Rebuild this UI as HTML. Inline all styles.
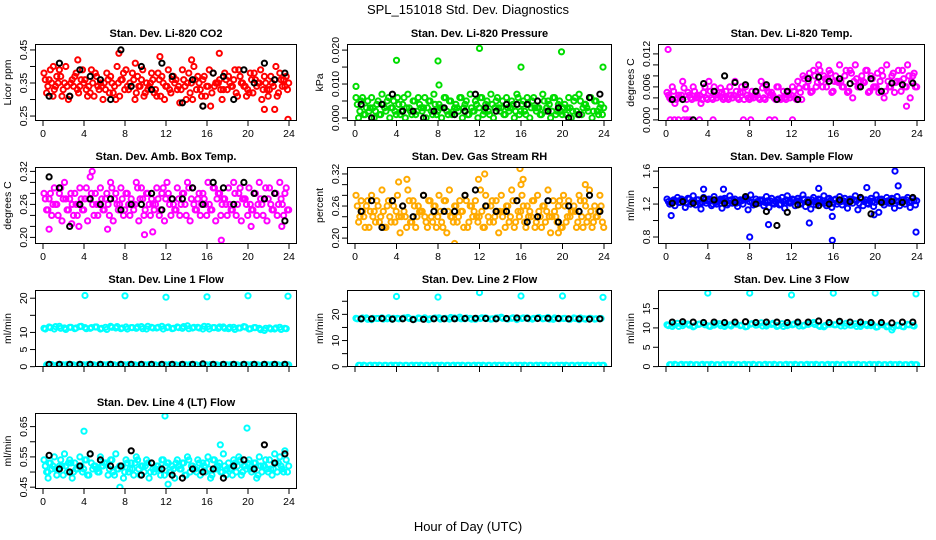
<!DOCTYPE html>
<html><head><meta charset="utf-8"><style>
body{margin:0;background:#fff;}
svg{display:block;font-family:"Liberation Sans",Arial,sans-serif;}
</style></head><body>
<svg id="chart" width="936" height="540" viewBox="0 0 936 540">
<text x="468" y="14" text-anchor="middle" font-size="13">SPL_151018  Std. Dev. Diagnostics</text>
<text x="468" y="531" text-anchor="middle" font-size="13">Hour of Day (UTC)</text>
</svg>
<script>
// ---- data ----
const xTicks = [0,4,8,12,16,20,24];
const blkT = [0.6,1.6,2.6,3.6,4.6,5.6,6.6,7.6,8.6,9.6,10.6,11.6,12.6,13.6,14.6,15.6,16.6,17.6,18.6,19.6,20.6,21.6,22.6,23.6];

const co2A=[0.38,0.36,0.33,0.39,0.35,0.31,0.37,0.34,0.36,0.32,0.38,0.35,0.33,0.37,0.30,0.36,0.39,0.34,0.32,0.36,0.35,0.38,0.31,0.37,0.34,0.36,0.33,0.39,0.35,0.30,0.37,0.36,0.34,0.38,0.35,0.33,0.37,0.36,0.39,0.34,0.32,0.38,0.35,0.37,0.33,0.36,0.38,0.34];
const co2B=[0.32,0.35,0.37,0.31,0.34,0.36,0.33,0.39,0.31,0.35,0.34,0.30,0.36,0.32,0.35,0.38,0.33,0.36,0.34,0.31,0.34,0.32,0.36,0.30,0.33,0.35,0.29,0.34,0.32,0.36,0.33,0.31,0.28,0.35,0.33,0.36,0.34,0.32,0.35,0.31,0.36,0.34,0.30,0.33,0.35,0.31,0.34,0.33];
const co2C=[0.36,0.39,0.34,0.37,0.40,0.35,0.38,0.36,0.33,0.39,0.37,0.34,0.38,0.35,0.40,0.36,0.34,0.38,0.37,0.39,0.33,0.36,0.38,0.35,0.39,0.37,0.34,0.36,0.38,0.40,0.35,0.37,0.39,0.34,0.36,0.38,0.35,0.39,0.37,0.34,0.38,0.36,0.39,0.35,0.37,0.40,0.36,0.37];
const co2D=[0.34,0.31,0.35,0.33,0.30,0.34,0.32,0.35,0.34,0.31,0.33,0.35,0.32,0.34,0.31,0.33,0.35,0.30,0.34,0.32,0.35,0.33,0.31,0.34,0.32,0.36,0.33,0.30,0.35,0.33,0.31,0.34,0.32,0.35,0.30,0.33,0.34,0.31,0.35,0.33,0.32,0.35,0.33,0.31,0.34,0.32,0.36,0.35];
const co2OutT=[1.0,3.4,7.4,9.0,11.4,14.5,15.6,17.2,21.6,22.6,23.9];
const co2OutV=[0.40,0.42,0.44,0.41,0.43,0.42,0.28,0.44,0.27,0.27,0.24];
const co2Blk=[0.31,0.41,0.31,0.39,0.37,0.36,0.30,0.45,0.34,0.40,0.33,0.41,0.37,0.29,0.36,0.28,0.38,0.37,0.30,0.39,0.35,0.41,0.36,0.38];

const prA=[0.006,0.005,0.003,0.006,0.004,0.007,0.005,0.003,0.006,0.004,0.007,0.005,0.006,0.003,0.005,0.007,0.004,0.006,0.005,0.003,0.006,0.004,0.007,0.005,0.006,0.004,0.007,0.005,0.003,0.006,0.005,0.007,0.004,0.006,0.005,0.003,0.007,0.005,0.006,0.004,0.003,0.006,0.005,0.007,0.004,0.006,0.005,0.003];
const prB=[0.000,0.001,0.002,0.000,0.001,0.003,0.000,0.002,0.001,0.000,0.002,0.001,0.003,0.000,0.002,0.001,0.000,0.002,0.001,0.003,0.000,0.001,0.002,0.000,0.001,0.002,0.000,0.003,0.001,0.002,0.000,0.001,0.002,0.000,0.003,0.001,0.002,0.000,0.001,0.002,0.001,0.000,0.002,0.001,0.003,0.000,0.002,0.001];
const prC=[0.004,0.006,0.005,0.003,0.005,0.004,0.006,0.005,0.004,0.006,0.003,0.005,0.004,0.006,0.005,0.004,0.003,0.006,0.005,0.004,0.006,0.005,0.003,0.004,0.006,0.005,0.004,0.006,0.005,0.003,0.004,0.006,0.005,0.004,0.006,0.003,0.005,0.004,0.006,0.005,0.004,0.003,0.006,0.005,0.004,0.006,0.005,0.004];
const prD=[0.002,0.001,0.003,0.002,0.001,0.002,0.003,0.001,0.002,0.003,0.001,0.002,0.002,0.003,0.001,0.002,0.003,0.001,0.002,0.002,0.003,0.001,0.002,0.003,0.002,0.001,0.003,0.002,0.001,0.003,0.002,0.002,0.001,0.003,0.002,0.001,0.003,0.002,0.002,0.001,0.003,0.002,0.001,0.003,0.002,0.002,0.001,0.003];
const prOutT=[0.1,4.0,8.0,8.1,12.0,16.0,19.9,23.9];
const prOutV=[0.0093,0.017,0.0168,0.0097,0.0205,0.015,0.0195,0.015];
const prBlk=[0.004,0.000,0.004,0.007,0.002,0.002,0.000,0.002,0.003,0.001,0.002,0.007,0.003,0.002,0.004,0.004,0.004,0.005,0.002,0.003,0.000,0.001,0.006,0.007];

const tpA=[0.005,0.006,0.004,0.007,0.005,0.006,0.004,0.005,0.007,0.006,0.005,0.004,0.006,0.007,0.005,0.006,0.004,0.005,0.007,0.006,0.005,0.006,0.004,0.005,0.006,0.007,0.008,0.007,0.009,0.010,0.008,0.009,0.007,0.010,0.008,0.009,0.010,0.007,0.009,0.008,0.006,0.009,0.010,0.008,0.007,0.009,0.010,0.008];
const tpB=[0.004,0.003,0.004,0.002,0.004,0.004,0.003,0.004,0.004,0.004,0.005,0.004,0.004,0.004,0.005,0.004,0.004,0.004,0.004,0.005,0.004,0.004,0.004,0.004,0.004,0.005,0.006,0.005,0.006,0.007,0.006,0.005,0.007,0.006,0.005,0.004,0.006,0.007,0.005,0.006,0.005,0.004,0.006,0.005,0.007,0.006,0.004,0.006];
const tpC=[0.0045,0.0052,0.0045,0.0058,0.0045,0.0052,0.0045,0.0060,0.0052,0.0045,0.0058,0.0052,0.0045,0.0052,0.0060,0.0045,0.0052,0.0045,0.0058,0.0052,0.0045,0.0060,0.0052,0.0045,0.0052,0.0058,0.0075,0.0085,0.0080,0.0090,0.0075,0.0085,0.0080,0.0070,0.0090,0.0085,0.0075,0.0080,0.0090,0.0075,0.0085,0.0080,0.0070,0.0085,0.0090,0.0075,0.0080,0.0085];
const tpD=[0.0037,0.0037,0.0045,0.0037,0.0037,0.0045,0.0037,0.0037,0.0037,0.0045,0.0037,0.0037,0.0045,0.0037,0.0037,0.0037,0.0045,0.0037,0.0037,0.0045,0.0037,0.0037,0.0037,0.0045,0.0037,0.0037,0.0060,0.0052,0.0068,0.0060,0.0075,0.0052,0.0068,0.0060,0.0052,0.0070,0.0060,0.0068,0.0052,0.0060,0.0070,0.0052,0.0060,0.0068,0.0052,0.0060,0.0070,0.0060];
const tpOutT=[0.2,0.4,0.8,1.2,1.7,2.0,2.3,3.2,4.5,7.4,8.1,9.9,10.4,12.1,23.0];
const tpOutV=[0.0128,0,0,0,0,0,0,0,0,0,0,0,0,0,0.0025];
const tpBlk=[0.0037,0.0037,0.0000,0.0066,0.0052,0.0080,0.0068,0.0064,0.0052,0.0064,0.0037,0.0052,0.0037,0.0075,0.0078,0.0070,0.0075,0.0066,0.0060,0.0075,0.0052,0.0067,0.0064,0.0067];

const abA=[0.28,0.27,0.29,0.28,0.30,0.27,0.28,0.29,0.27,0.31,0.28,0.29,0.27,0.30,0.28,0.29,0.28,0.27,0.30,0.29,0.28,0.27,0.29,0.28,0.30,0.27,0.29,0.28,0.30,0.29,0.27,0.28,0.30,0.29,0.28,0.27,0.29,0.30,0.28,0.27,0.29,0.28,0.30,0.27,0.29,0.28,0.30,0.28];
const abB=[0.25,0.24,0.26,0.23,0.25,0.26,0.24,0.25,0.23,0.26,0.24,0.25,0.26,0.23,0.25,0.24,0.26,0.25,0.23,0.24,0.26,0.25,0.24,0.23,0.26,0.25,0.24,0.26,0.23,0.25,0.24,0.26,0.25,0.23,0.24,0.26,0.25,0.24,0.23,0.26,0.25,0.24,0.26,0.23,0.25,0.24,0.26,0.25];
const abC=[0.27,0.28,0.26,0.29,0.27,0.28,0.26,0.27,0.29,0.28,0.26,0.27,0.28,0.29,0.26,0.27,0.28,0.26,0.29,0.27,0.28,0.26,0.27,0.29,0.28,0.26,0.27,0.28,0.29,0.26,0.28,0.27,0.26,0.29,0.28,0.27,0.26,0.28,0.29,0.27,0.26,0.28,0.27,0.29,0.26,0.28,0.27,0.29];
const abD=[0.25,0.26,0.24,0.27,0.25,0.24,0.26,0.25,0.27,0.24,0.26,0.25,0.24,0.27,0.26,0.25,0.24,0.26,0.27,0.25,0.24,0.26,0.25,0.27,0.24,0.25,0.26,0.24,0.27,0.25,0.26,0.24,0.25,0.27,0.26,0.24,0.25,0.26,0.27,0.24,0.25,0.26,0.24,0.27,0.25,0.26,0.24,0.25];
const abOutT=[0.6,2.8,3.5,4.8,6.3,9.9,10.7,17.4,19.3,20.3,23.3];
const abOutV=[0.215,0.225,0.22,0.32,0.215,0.205,0.21,0.195,0.335,0.22,0.22];
const abBlk=[0.31,0.29,0.22,0.26,0.27,0.26,0.27,0.25,0.26,0.26,0.28,0.25,0.27,0.27,0.29,0.26,0.30,0.29,0.26,0.30,0.28,0.27,0.28,0.23];

const rhA=[0.28,0.27,0.26,0.28,0.27,0.29,0.26,0.27,0.28,0.26,0.29,0.27,0.26,0.28,0.27,0.26,0.28,0.27,0.29,0.26,0.27,0.28,0.26,0.27,0.29,0.28,0.26,0.27,0.28,0.26,0.29,0.27,0.28,0.26,0.27,0.28,0.26,0.29,0.27,0.26,0.28,0.27,0.26,0.28,0.27,0.29,0.26,0.28];
const rhB=[0.23,0.24,0.22,0.25,0.23,0.22,0.24,0.23,0.21,0.24,0.23,0.22,0.25,0.23,0.24,0.22,0.23,0.21,0.24,0.23,0.25,0.22,0.24,0.23,0.22,0.24,0.23,0.21,0.25,0.23,0.22,0.24,0.23,0.25,0.22,0.24,0.23,0.21,0.24,0.22,0.23,0.25,0.22,0.24,0.23,0.22,0.24,0.23];
const rhC=[0.26,0.25,0.27,0.24,0.26,0.25,0.27,0.26,0.24,0.25,0.27,0.26,0.25,0.24,0.27,0.26,0.25,0.27,0.24,0.26,0.25,0.27,0.26,0.24,0.25,0.26,0.27,0.25,0.24,0.26,0.27,0.25,0.26,0.24,0.27,0.25,0.26,0.24,0.25,0.27,0.26,0.24,0.25,0.27,0.26,0.25,0.24,0.26];
const rhD=[0.24,0.22,0.25,0.23,0.24,0.22,0.23,0.25,0.24,0.22,0.23,0.24,0.25,0.22,0.23,0.24,0.22,0.25,0.23,0.24,0.22,0.23,0.25,0.24,0.22,0.23,0.24,0.25,0.22,0.24,0.23,0.25,0.22,0.24,0.23,0.22,0.25,0.24,0.23,0.22,0.24,0.25,0.23,0.22,0.24,0.23,0.25,0.22];
const rhOutT=[4.2,5.0,9.6,11.9,12.5,15.9,16.0,16.2,19.6,22.2];
const rhOutV=[0.305,0.31,0.19,0.31,0.32,0.33,0.30,0.31,0.21,0.30];
const rhBlk=[0.25,0.27,0.22,0.27,0.26,0.24,0.28,0.25,0.25,0.25,0.28,0.29,0.26,0.25,0.25,0.27,0.23,0.24,0.27,0.23,0.26,0.25,0.28,0.25];

const sfA=[1.26,1.24,1.28,1.25,1.27,1.30,1.25,1.28,1.26,1.29,1.24,1.27,1.30,1.26,1.25,1.28,1.31,1.26,1.24,1.29,1.27,1.25,1.28,1.30,1.26,1.27,1.31,1.25,1.28,1.26,1.30,1.27,1.25,1.29,1.27,1.26,1.30,1.28,1.25,1.27,1.31,1.26,1.28,1.27,1.29,1.25,1.28,1.27];
const sfB=[1.20,1.18,1.22,1.16,1.20,1.19,1.14,1.21,1.18,1.20,1.15,1.19,1.21,1.17,1.20,1.13,1.19,1.21,1.18,1.16,1.20,1.19,1.15,1.21,1.18,1.20,1.17,1.14,1.19,1.21,1.18,1.16,1.20,1.19,1.15,1.21,1.13,1.18,1.20,1.17,1.10,1.19,1.21,1.15,1.18,1.20,1.16,1.19];
const sfC=[1.23,1.25,1.22,1.24,1.26,1.23,1.21,1.25,1.24,1.22,1.26,1.23,1.25,1.21,1.24,1.26,1.22,1.23,1.25,1.24,1.21,1.26,1.23,1.22,1.25,1.24,1.26,1.22,1.23,1.25,1.21,1.24,1.26,1.23,1.22,1.25,1.24,1.26,1.21,1.23,1.25,1.22,1.24,1.26,1.23,1.25,1.22,1.24];
const sfD=[1.22,1.24,1.26,1.21,1.23,1.25,1.22,1.24,1.20,1.23,1.25,1.21,1.24,1.22,1.26,1.23,1.21,1.25,1.22,1.24,1.23,1.20,1.25,1.22,1.24,1.21,1.23,1.25,1.22,1.24,1.26,1.21,1.23,1.24,1.22,1.25,1.21,1.23,1.24,1.22,1.25,1.23,1.21,1.24,1.22,1.25,1.23,1.24];
const sfOutT=[0.5,3.6,5.5,8.0,9.8,13.7,14.6,15.9,15.9,19.2,19.9,21.9,22.2,23.9];
const sfOutV=[1.06,1.38,1.38,0.80,0.95,0.97,1.39,1.05,0.76,1.40,1.07,1.60,1.42,0.86];
const sfBlk=[1.21,1.23,1.21,1.27,1.25,1.21,1.22,1.29,1.20,1.11,0.94,1.10,1.19,1.22,1.18,1.20,1.25,1.23,1.28,1.08,1.22,1.23,1.22,1.28];

const l1A=[11.2,11.6,11.0,11.8,11.3,11.5,11.1,11.7,11.4,11.2,11.6,11.0,11.5,11.8,11.3,11.1,11.6,11.4,11.2,11.7,11.0,11.5,11.3,11.8,11.4,11.1,11.6,11.2,11.9,11.3,11.5,11.0,11.7,11.4,11.2,11.6,11.1,11.5,11.3,11.7,11.0,11.4,11.2,10.6,11.3,11.0,11.5,11.2];
const l1B=[0.5,0.6,0.4,0.5,0.6,0.5,0.4,0.5,0.6,0.5,0.4,0.5,0.6,0.5,0.4,0.5,0.6,0.5,0.4,0.5,0.6,0.5,0.4,0.5,0.6,0.5,0.4,0.5,0.6,0.5,0.4,0.5,0.6,0.5,0.4,0.5,0.6,0.5,0.4,0.5,0.6,0.5,0.4,0.5,0.6,0.5,0.4,0.5];
const l1C=[11.0,11.4,11.7,11.2,10.9,11.5,11.3,11.8,11.1,11.4,11.6,11.2,10.9,11.5,11.7,11.3,11.0,11.4,11.6,11.1,11.8,11.3,11.5,11.0,11.6,11.2,11.4,11.7,11.1,11.5,11.3,11.8,11.0,11.4,11.6,11.2,11.5,10.9,11.3,11.6,11.1,11.4,10.8,11.2,11.0,11.3,10.9,11.1];
const l1D=[0.5,0.4,0.6,0.5,0.4,0.5,0.6,0.5,0.4,0.5,0.6,0.5,0.4,0.5,0.6,0.5,0.4,0.5,0.6,0.5,0.4,0.5,0.6,0.5,0.4,0.5,0.6,0.5,0.4,0.5,0.6,0.5,0.4,0.5,0.6,0.5,0.4,0.5,0.6,0.5,0.4,0.5,0.6,0.5,0.4,0.5,0.6,0.5];
const l1OutT=[4.1,8.0,12.0,16.0,20.0,23.9];
const l1OutV=[20.8,20.7,20.3,20.4,20.7,20.6];
const l1Blk=[0.7,0.7,0.7,0.7,0.7,0.7,0.7,0.7,0.7,0.7,0.7,0.7,0.7,0.7,0.7,0.8,0.7,0.7,0.7,0.7,0.7,0.7,0.7,0.7];

const l2A=[18.5,18.2,18.6,18.0,18.4,18.7,18.3,18.1,18.5,18.4,18.8,18.2,18.6,18.3,18.0,18.5,18.7,18.4,18.2,18.6,18.9,18.3,18.5,18.1,18.4,18.7,18.2,18.6,18.9,18.3,18.5,18.0,18.4,18.7,18.2,18.6,18.3,18.8,18.1,18.5,18.4,18.2,18.6,18.0,18.3,18.5,18.2,18.4];
const l2B=[0.5,0.6,0.4,0.5,0.6,0.5,0.4,0.5,0.6,0.5,0.4,0.5,0.6,0.5,0.4,0.5,0.6,0.5,0.4,0.5,0.6,0.5,0.4,0.5,0.6,0.5,0.4,0.5,0.6,0.5,0.4,0.5,0.6,0.5,0.4,0.5,0.6,0.5,0.4,0.5,0.6,0.5,0.4,0.5,0.6,0.5,0.4,0.5];
const l2C=[18.3,18.6,18.1,18.5,18.4,18.2,18.7,18.5,18.3,18.6,18.4,18.1,18.5,18.7,18.3,18.6,18.2,18.5,18.8,18.4,18.3,18.6,18.2,18.5,18.7,18.4,18.3,18.6,18.5,18.2,18.7,18.4,18.6,18.3,18.5,18.8,18.4,18.2,18.6,18.3,18.5,18.1,18.4,18.6,18.2,18.5,18.3,18.4];
const l2D=[0.5,0.4,0.6,0.5,0.4,0.5,0.6,0.5,0.4,0.5,0.6,0.5,0.4,0.5,0.6,0.5,0.4,0.5,0.6,0.5,0.4,0.5,0.6,0.5,0.4,0.5,0.6,0.5,0.4,0.5,0.6,0.5,0.4,0.5,0.6,0.5,0.4,0.5,0.6,0.5,0.4,0.5,0.6,0.5,0.4,0.5,0.6,0.5];
const l2OutT=[4.0,8.0,12.0,16.0,20.0,23.9];
const l2OutV=[26.8,26.6,28.3,27.0,27.0,26.5];
const l2Blk=[18.3,18.3,18.4,18.2,18.3,18.0,18.1,18.3,18.3,18.3,18.4,18.5,18.4,18.3,18.4,18.6,18.5,18.4,18.5,18.4,18.3,18.3,18.2,18.3];

const l3A=[10.8,10.4,11.2,10.6,11.0,10.3,10.9,11.3,10.5,10.7,11.1,10.4,10.8,11.2,10.6,10.3,11.0,10.7,11.3,10.5,10.9,10.4,11.1,10.6,10.8,11.2,10.5,10.9,11.4,10.6,10.3,11.0,10.8,11.3,10.5,10.7,11.1,10.4,10.9,10.6,10.2,11.0,10.3,9.5,10.7,10.4,10.9,10.6];
const l3B=[0.5,0.6,0.4,0.5,0.6,0.5,0.4,0.5,0.6,0.5,0.4,0.5,0.6,0.5,0.4,0.5,0.6,0.5,0.4,0.5,0.6,0.5,0.4,0.5,0.6,0.5,0.4,0.5,0.6,0.5,0.4,0.5,0.6,0.5,0.4,0.5,0.6,0.5,0.4,0.5,0.6,0.5,0.4,0.5,0.6,0.5,0.4,0.5];
const l3C=[10.6,10.9,10.4,11.1,10.7,10.5,11.0,10.8,10.4,11.2,10.6,10.9,10.5,11.0,10.7,10.4,11.1,10.8,10.5,10.9,11.2,10.6,10.4,10.8,11.0,10.5,10.7,11.1,10.9,10.4,10.6,11.0,10.8,10.5,11.2,10.7,10.4,10.9,10.6,11.0,10.3,10.8,10.5,10.1,10.6,10.3,10.8,10.5];
const l3D=[0.5,0.4,0.6,0.5,0.4,0.5,0.6,0.5,0.4,0.5,0.6,0.5,0.4,0.5,0.6,0.5,0.4,0.5,0.6,0.5,0.4,0.5,0.6,0.5,0.4,0.5,0.6,0.5,0.4,0.5,0.6,0.5,0.4,0.5,0.6,0.5,0.4,0.5,0.6,0.5,0.4,0.5,0.6,0.5,0.4,0.5,0.6,0.5];
const l3OutT=[4.0,8.0,12.0,16.0,20.0,23.9];
const l3OutV=[19.0,19.0,18.5,19.0,19.0,18.8];
const l3Blk=[11.5,11.6,11.5,11.4,11.5,11.4,11.5,11.6,11.4,11.5,11.5,11.4,11.5,11.5,11.8,11.4,11.7,11.5,11.5,11.4,11.4,11.3,11.5,11.5];

const l4A=[0.54,0.53,0.55,0.52,0.56,0.54,0.53,0.55,0.54,0.56,0.52,0.55,0.53,0.54,0.56,0.52,0.54,0.53,0.55,0.52,0.54,0.53,0.52,0.54,0.53,0.52,0.54,0.53,0.55,0.52,0.54,0.53,0.55,0.54,0.52,0.56,0.53,0.54,0.55,0.52,0.54,0.53,0.55,0.52,0.54,0.56,0.55,0.57];
const l4B=[0.50,0.51,0.49,0.52,0.50,0.48,0.51,0.50,0.49,0.51,0.50,0.52,0.49,0.50,0.51,0.48,0.50,0.49,0.51,0.50,0.48,0.50,0.51,0.49,0.50,0.48,0.51,0.49,0.50,0.51,0.49,0.50,0.48,0.51,0.50,0.49,0.51,0.50,0.49,0.51,0.50,0.48,0.50,0.51,0.49,0.50,0.51,0.50];
const l4C=[0.52,0.53,0.51,0.54,0.52,0.53,0.51,0.52,0.54,0.53,0.51,0.52,0.53,0.54,0.51,0.52,0.53,0.51,0.54,0.52,0.53,0.51,0.52,0.54,0.53,0.51,0.52,0.53,0.54,0.51,0.53,0.52,0.51,0.54,0.53,0.52,0.51,0.53,0.54,0.52,0.51,0.53,0.52,0.54,0.51,0.53,0.52,0.54];
const l4D=[0.50,0.52,0.51,0.49,0.53,0.50,0.52,0.51,0.49,0.52,0.50,0.53,0.51,0.49,0.52,0.50,0.51,0.53,0.49,0.52,0.50,0.51,0.49,0.52,0.50,0.53,0.51,0.49,0.52,0.50,0.51,0.53,0.49,0.52,0.50,0.51,0.49,0.52,0.50,0.53,0.51,0.49,0.52,0.50,0.51,0.53,0.50,0.52];
const l4OutT=[0.5,4.0,7.5,11.9,12.2,17.3,19.9];
const l4OutV=[0.48,0.635,0.45,0.685,0.46,0.59,0.645];
const l4Blk=[0.555,0.51,0.50,0.52,0.56,0.54,0.52,0.52,0.57,0.49,0.53,0.51,0.49,0.48,0.51,0.50,0.51,0.48,0.52,0.54,0.51,0.59,0.53,0.56];

// ---- layout ----
const NS="http://www.w3.org/2000/svg";
const svg=document.getElementById('chart');
const cols=[[35,297],[347,612],[658,925]];
const rows=[[44,121],[167,244],[290,367],[413,489]];
const panels=[
 {name:'co2',title:'Stan. Dev. Li-820 CO2',ylab:'Licor ppm',c:0,r:0,col:'#ff0000',lo:0.235,hi:0.468,ticks:[0.25,0.30,0.35,0.40,0.45],labels:['0.25','0.35','0.45'],S:[co2A,co2B,co2C,co2D],oT:co2OutT,oV:co2OutV,K:co2Blk},
 {name:'pressure',title:'Stan. Dev. Li-820 Pressure',ylab:'kPa',c:1,r:0,col:'#00dd00',lo:-0.0009,hi:0.0218,ticks:[0,0.005,0.010,0.015,0.020],labels:['0.000','0.010','0.020'],S:[prA,prB,prC,prD],oT:prOutT,oV:prOutV,K:prBlk},
 {name:'temp',title:'Stan. Dev. Li-820 Temp.',ylab:'degrees C',c:2,r:0,col:'#ff00ff',lo:-0.0002,hi:0.0138,ticks:[0,0.002,0.004,0.006,0.008,0.010,0.012],labels:['0.000','0.006','0.012'],S:[tpA,tpB,tpC,tpD],oT:tpOutT,oV:tpOutV,K:tpBlk},
 {name:'amb-temp',title:'Stan. Dev. Amb. Box Temp.',ylab:'degrees C',c:0,r:1,col:'#ff00ff',lo:0.188,hi:0.328,ticks:[0.20,0.22,0.24,0.26,0.28,0.30,0.32],labels:['0.20','0.26','0.32'],S:[abA,abB,abC,abD],oT:abOutT,oV:abOutV,K:abBlk},
 {name:'gas-rh',title:'Stan. Dev. Gas Stream RH',ylab:'percent',c:1,r:1,col:'#ffaa00',lo:0.189,hi:0.333,ticks:[0.20,0.22,0.24,0.26,0.28,0.30,0.32],labels:['0.20','0.26','0.32'],S:[rhA,rhB,rhC,rhD],oT:rhOutT,oV:rhOutV,K:rhBlk},
 {name:'sample-flow',title:'Stan. Dev. Sample Flow',ylab:'ml/min',c:2,r:1,col:'#0000ff',lo:0.715,hi:1.65,ticks:[0.8,1.0,1.2,1.4,1.6],labels:['0.8','1.2','1.6'],S:[sfA,sfB,sfC,sfD],oT:sfOutT,oV:sfOutV,K:sfBlk},
 {name:'line1-flow',title:'Stan. Dev. Line 1 Flow',ylab:'ml/min',c:0,r:2,col:'#00ffff',lo:-0.1,hi:22.4,ticks:[0,5,10,15,20],labels:['0','5','10','20'],S:[l1A,l1B,l1C,l1D],oT:l1OutT,oV:l1OutV,K:l1Blk},
 {name:'line2-flow',title:'Stan. Dev. Line 2 Flow',ylab:'ml/min',c:1,r:2,col:'#00ffff',lo:-0.1,hi:29.3,ticks:[0,5,10,15,20,25],labels:['0','10','20'],S:[l2A,l2B,l2C,l2D],oT:l2OutT,oV:l2OutV,K:l2Blk},
 {name:'line3-flow',title:'Stan. Dev. Line 3 Flow',ylab:'ml/min',c:2,r:2,col:'#00ffff',lo:-0.1,hi:19.8,ticks:[0,5,10,15],labels:['0','5','10','15'],S:[l3A,l3B,l3C,l3D],oT:l3OutT,oV:l3OutV,K:l3Blk},
 {name:'line4-flow',title:'Stan. Dev. Line 4 (LT) Flow',ylab:'ml/min',c:0,r:3,col:'#00ffff',lo:0.444,hi:0.695,ticks:[0.45,0.50,0.55,0.60,0.65],labels:['0.45','0.55','0.65'],S:[l4A,l4B,l4C,l4D],oT:l4OutT,oV:l4OutV,K:l4Blk}
];
const offs=[0.1,0.35,0.225,0.475];
function mk(tag,attrs,parent){const e=document.createElementNS(NS,tag);for(const k in attrs)e.setAttribute(k,attrs[k]);parent.appendChild(e);return e;}
function fmt(v,p){return p.labels.find(l=>Math.abs(parseFloat(l)-v)<1e-9);}

panels.forEach(p=>{
  const [x0,x1]=cols[p.c],[y0,y1]=rows[p.r];
  const xs=t=>x0+8+(t/24)*(x1-x0-16);
  const ys=v=>y1-(v-p.lo)/(p.hi-p.lo)*(y1-y0);
  const g=mk('g',{},svg);
  
  
  const clip=mk('clipPath',{id:'cl-'+p.name},g);
  mk('rect',{x:x0,y:y0,width:x1-x0,height:y1-y0},clip);
  const t=mk('text',{x:(x0+x1)/2,y:y0-7,'text-anchor':'middle','font-size':'11','font-weight':'bold'},g);
  t.textContent=p.title;
  
  
  const yl=mk('text',{transform:`translate(${x0-24},${(y0+y1)/2}) rotate(-90)`,'text-anchor':'middle','font-size':'10.5'},g);
  yl.textContent=p.ylab;
  
  
  const pts=mk('g',{'clip-path':`url(#cl-${p.name})`,fill:'none','stroke-width':'2'},g);
  
  
  const dot=(tt,v,col,nm)=>{const c=mk('circle',{cx:xs(tt).toFixed(1),cy:ys(v).toFixed(1),r:2.6,stroke:col},pts);
    
    };
  p.S.forEach((arr,k)=>arr.forEach((v,i)=>dot(offs[k]+0.5*i,v,p.col,'point')));
  p.oT.forEach((tt,i)=>dot(tt,p.oV[i],p.col,'point-outlier'));
  p.K.forEach((v,i)=>dot(blkT[i],v,'#000','point-black'));
  const ax=mk('g',{stroke:'#000','stroke-width':'1',fill:'none'},g);
  
  
  mk('rect',{x:x0+0.5,y:y0+0.5,width:x1-x0-1,height:y1-y0-1},ax);
  xTicks.forEach(v=>{
    mk('line',{x1:xs(v),x2:xs(v),y1:y1,y2:y1+5},ax);
    if(p.r!==2){const l=mk('text',{x:xs(v),y:y1+16,'text-anchor':'middle','font-size':'10.5',stroke:'none',fill:'#000'},g);
      l.textContent=v;
      
      }
  });
  p.ticks.forEach(v=>{
    mk('line',{x1:x0-5,x2:x0,y1:ys(v),y2:ys(v)},ax);
    const s=fmt(v,p);
    if(s){const l=mk('text',{transform:`translate(${x0-8},${ys(v)}) rotate(-90)`,'text-anchor':'middle','font-size':'10.5'},g);
      l.textContent=s;
      
      }
  });
});
</script>
</body></html>
